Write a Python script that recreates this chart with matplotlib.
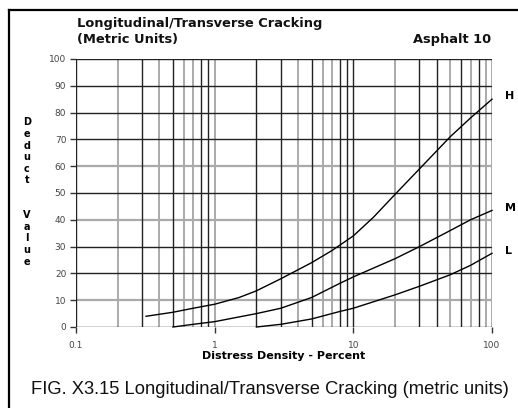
import matplotlib
matplotlib.use("Agg")
import matplotlib.pyplot as plt

# vertical grid positions (percent) and whether they came out dark in the scan
grid_x = [0.1, 0.2, 0.3, 0.4, 0.5, 0.6, 0.7, 0.8, 0.9,
          1, 2, 3, 4, 5, 6, 7, 8, 9,
          10, 20, 30, 40, 50, 60, 70, 80, 90, 100]
grid_x_dark = [1, 0, 1, 0, 1, 0, 0, 1, 1,
               0, 1, 1, 0, 1, 0, 0, 1, 1,
               1, 0, 1, 1, 0, 1, 0, 1, 0, 0]
grid_y = [0, 10, 20, 30, 40, 50, 60, 70, 80, 90, 100]
grid_y_dark = [1, 0, 1, 1, 0, 1, 0, 1, 1, 1, 1]

x_ticks = [0.1, 1, 10, 100]
x_tick_labels = ["0.1", "1", "10", "100"]

# deduct value curves
high_x = [0.32, 0.5, 0.7, 1, 1.5, 2, 3, 5, 7, 10, 14, 20, 30, 50, 70, 100]
high_y = [4, 5.5, 7, 8.5, 11, 13.5, 18, 24, 28.5, 34, 41, 49.5, 59, 71, 78, 85]
med_x = [0.5, 0.7, 1, 2, 3, 5, 8, 10, 20, 30, 50, 70, 100]
med_y = [0, 1, 2, 5, 7, 11, 16.3, 18.7, 25.5, 30, 36, 40, 43.5]
low_x = [2, 3, 5, 8, 10, 20, 30, 50, 70, 100]
low_y = [0, 1, 3, 5.8, 7, 12, 15.2, 19.5, 23, 27.5]
curve_labels = ["H", "M", "L"]

fig = plt.figure(figsize=(5.18, 4.08), dpi=100)
fig.patch.set_facecolor("white")

# scan border (left + top lines of the page frame)
fig.add_artist(plt.Line2D([9 / 518, 9 / 518], [0, 1 - 10 / 408],
                          color="black", lw=1.6, transform=fig.transFigure))
fig.add_artist(plt.Line2D([9 / 518, 1], [1 - 10 / 408, 1 - 10 / 408],
                          color="black", lw=1.6, transform=fig.transFigure))

ax = fig.add_axes([76 / 518, 1 - 327 / 408, 416 / 518, 268 / 408])
ax.set_xscale("log")
ax.set_xlim(0.1, 100)
ax.set_ylim(0, 100)

for x, dark in zip(grid_x, grid_x_dark):
    if dark:
        ax.axvline(x, color="#222222", lw=1.0, zorder=2)
    else:
        ax.axvline(x, color="#aaaaaa", lw=1.4, zorder=1)
for y, dark in zip(grid_y, grid_y_dark):
    if dark:
        ax.axhline(y, color="#222222", lw=1.0, zorder=2)
    else:
        ax.axhline(y, color="#aaaaaa", lw=1.6, zorder=1)

for sp in ax.spines.values():
    sp.set_visible(False)

ax.set_xticks(x_ticks)
ax.set_xticklabels(x_tick_labels)
ax.set_xticks([], minor=True)
ax.set_yticks(grid_y)
ax.tick_params(axis="both", length=4, width=1, color="#333333",
               labelsize=6.5, labelcolor="#444444", pad=3)
ax.tick_params(axis="x", pad=6)

for xs, ys, name in zip([high_x, med_x, low_x], [high_y, med_y, low_y], curve_labels):
    ax.plot(xs, ys, color="black", lw=1.0, zorder=3, clip_on=False)
    ax.annotate(name, (xs[-1], ys[-1]), xytext=(9, 2), textcoords="offset points",
                fontsize=8, fontweight="bold", va="center", ha="left",
                annotation_clip=False)

ax.set_xlabel("Distress Density - Percent", fontsize=8, fontweight="bold", labelpad=1)

fig.text(77 / 518, 1 - 24 / 408, "Longitudinal/Transverse Cracking",
         fontsize=9.4, fontweight="bold", va="center", ha="left", color="#111111")
fig.text(77 / 518, 1 - 40 / 408, "(Metric Units)",
         fontsize=9.4, fontweight="bold", va="center", ha="left", color="#111111")
fig.text(491 / 518, 1 - 40 / 408, "Asphalt 10",
         fontsize=9.4, fontweight="bold", va="center", ha="right", color="#111111")

fig.text(27 / 518, 1 - 192 / 408, "\n".join("Deduct  Value"),
         fontsize=7, fontweight="bold", va="center", ha="center",
         linespacing=1.2)

fig.text(270 / 518, 1 - 389 / 408,
         "FIG. X3.15 Longitudinal/Transverse Cracking (metric units)",
         fontsize=13.2, family="Liberation Sans", va="center", ha="center",
         color="#111111")

fig.savefig("out.png", dpi=100)
